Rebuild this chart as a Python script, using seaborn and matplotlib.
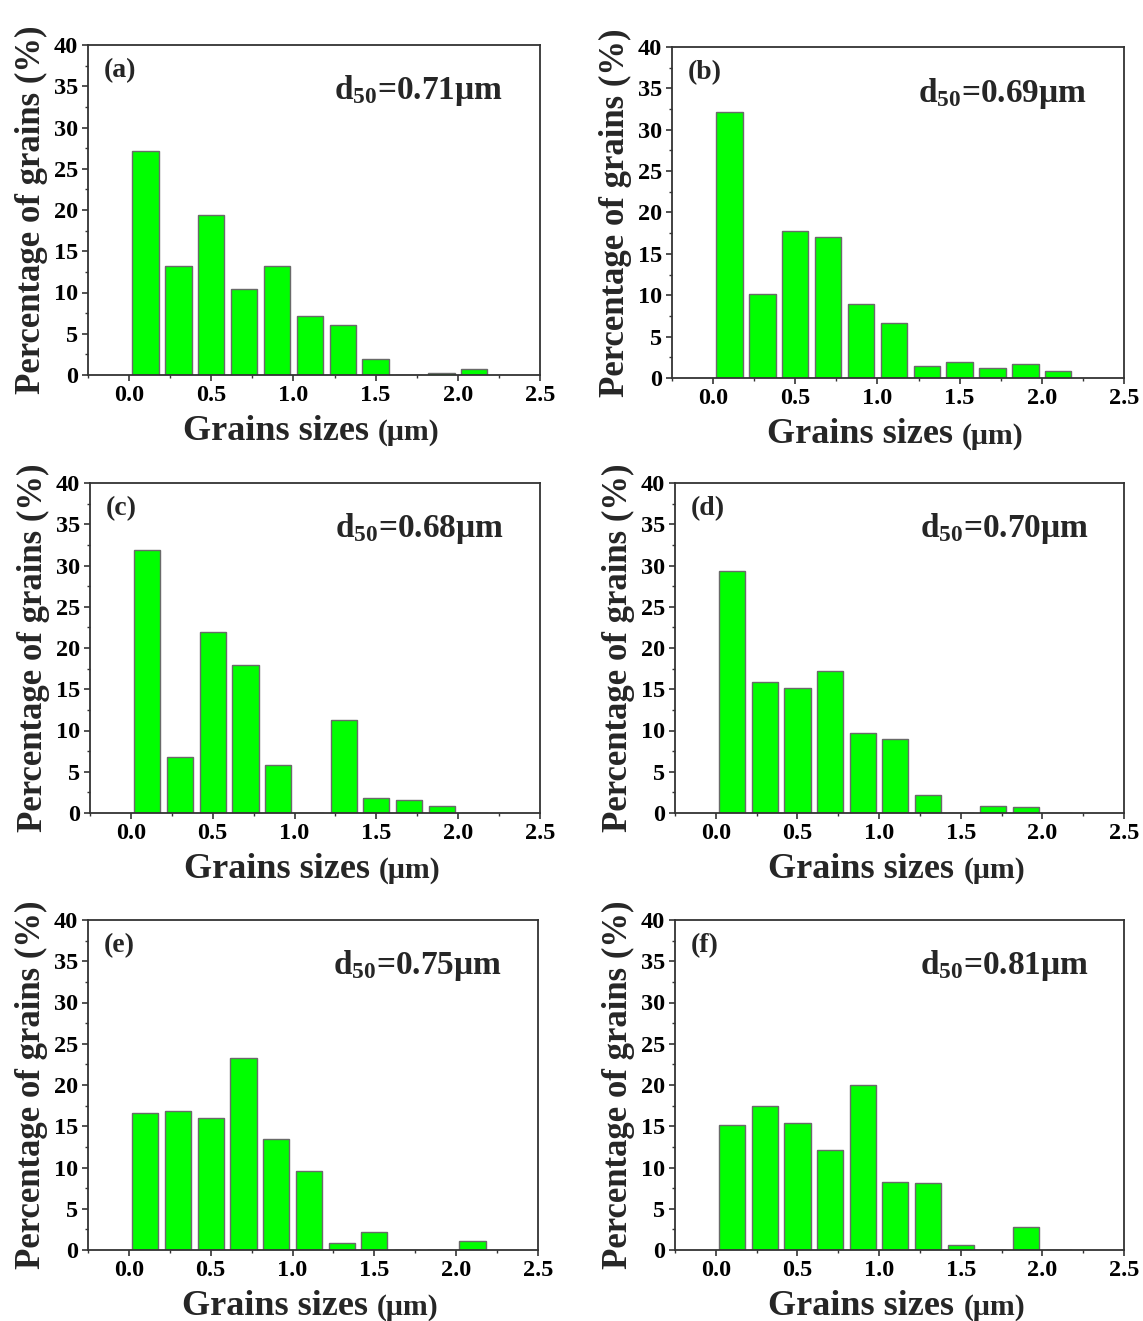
import numpy as np
import pandas as pd
import matplotlib
matplotlib.use("Agg")
import matplotlib.pyplot as plt
import seaborn as sns
from matplotlib.ticker import MultipleLocator

sns.set_style("ticks")
plt.rcParams['font.family'] = ['Liberation Serif', 'DejaVu Serif']
plt.rcParams['font.weight'] = 'bold'
plt.rcParams['mathtext.fontset'] = 'custom'
plt.rcParams['mathtext.rm'] = 'Liberation Serif:bold'
plt.rcParams['mathtext.bf'] = 'Liberation Serif:bold'
plt.rcParams['mathtext.it'] = 'Liberation Serif:bold'

# Bin centres (µm)
sizes = [0.1, 0.3, 0.5, 0.7, 0.9, 1.1, 1.3, 1.5, 1.7, 1.9, 2.1]

# Percentage of grains in each bin
pct_a = [27.1, 13.2, 19.4, 10.4, 13.2, 7.2, 6.1, 2.0, 0.0, 0.3, 0.7]
pct_b = [32.1, 10.2, 17.8, 17.0, 9.0, 6.6, 1.5, 1.9, 1.2, 1.7, 0.8]
pct_c = [31.9, 6.8, 21.9, 17.9, 5.8, 0.0, 11.3, 1.8, 1.6, 0.9, 0.0]
pct_d = [29.3, 15.9, 15.2, 17.2, 9.7, 9.0, 2.2, 0.0, 0.9, 0.7, 0.0]
pct_e = [16.6, 16.9, 16.0, 23.3, 13.5, 9.6, 0.9, 2.2, 0.0, 0.0, 1.1]
pct_f = [15.2, 17.5, 15.4, 12.1, 20.0, 8.3, 8.1, 0.6, 0.0, 2.8, 0.0]

panel_labels = ["(a)", "(b)", "(c)", "(d)", "(e)", "(f)"]
d50_values = ["0.71", "0.69", "0.68", "0.70", "0.75", "0.81"]
series = [pct_a, pct_b, pct_c, pct_d, pct_e, pct_f]

x_ticks = [0.0, 0.5, 1.0, 1.5, 2.0, 2.5]
y_ticks = [0, 5, 10, 15, 20, 25, 30, 35, 40]

W, H = 1143, 1321
fig = plt.figure(figsize=(W / 100, H / 100), dpi=100)

# axes rectangles in pixels: left, top, right, bottom
rects = [
    (88, 45, 540, 375),
    (672, 47, 1124, 378),
    (90, 483, 540, 813),
    (675, 483, 1124, 813),
    (88, 920, 538, 1250),
    (675, 920, 1124, 1250),
]

for i, (vals, lab, d50) in enumerate(zip(series, panel_labels, d50_values)):
    l, t, r, b = rects[i]
    ax = fig.add_axes([l / W, 1 - b / H, (r - l) / W, (b - t) / H])
    df = pd.DataFrame({"size": sizes, "pct": vals})
    sns.barplot(data=df, x="size", y="pct", native_scale=True, width=0.8,
                color="#00ff00", saturation=1, edgecolor="#6a6a6a",
                linewidth=1.0, ax=ax)
    ax.set_xlim(-0.25, 2.5)
    ax.set_ylim(0, 40)
    ax.set_xticks(x_ticks)
    ax.set_xticklabels([f"{v:.1f}" for v in x_ticks])
    ax.set_yticks(y_ticks)
    ax.xaxis.set_minor_locator(MultipleLocator(0.25))
    ax.yaxis.set_minor_locator(MultipleLocator(2.5))
    ax.tick_params(axis="both", which="major", direction="out", length=4,
                   width=1.2, labelsize=17.5, colors="#333333",
                   labelcolor="black", pad=3)
    ax.tick_params(axis="both", which="minor", direction="out", length=2.5,
                   width=1.0, colors="#333333")
    for lbl in ax.get_xticklabels() + ax.get_yticklabels():
        lbl.set_fontweight("bold")
    for sp in ax.spines.values():
        sp.set_visible(True)
        sp.set_linewidth(1.3)
        sp.set_color("#333333")
    ax.set_ylabel("Percentage of grains (%)", fontsize=25, fontweight="bold",
                  labelpad=4)
    ax.set_xlabel("")
    ax.text(0.035, 0.96, lab, transform=ax.transAxes, fontsize=20,
            fontweight="bold", ha="left", va="top")
    ax.text(0.545, 0.835, r"d$_{50}$=" + d50 + "μm", transform=ax.transAxes,
            fontsize=24, fontweight="bold", ha="left", va="baseline")
    # x label: "Grains sizes" large, "(μm)" smaller
    split = 0.642
    ax.text(split, -0.197, "Grains sizes ", transform=ax.transAxes,
            fontsize=26, fontweight="bold", ha="right", va="baseline")
    ax.text(split, -0.197, "(μm)", transform=ax.transAxes,
            fontsize=21.5, fontweight="bold", ha="left", va="baseline")

fig.savefig("out.png", dpi=100)
